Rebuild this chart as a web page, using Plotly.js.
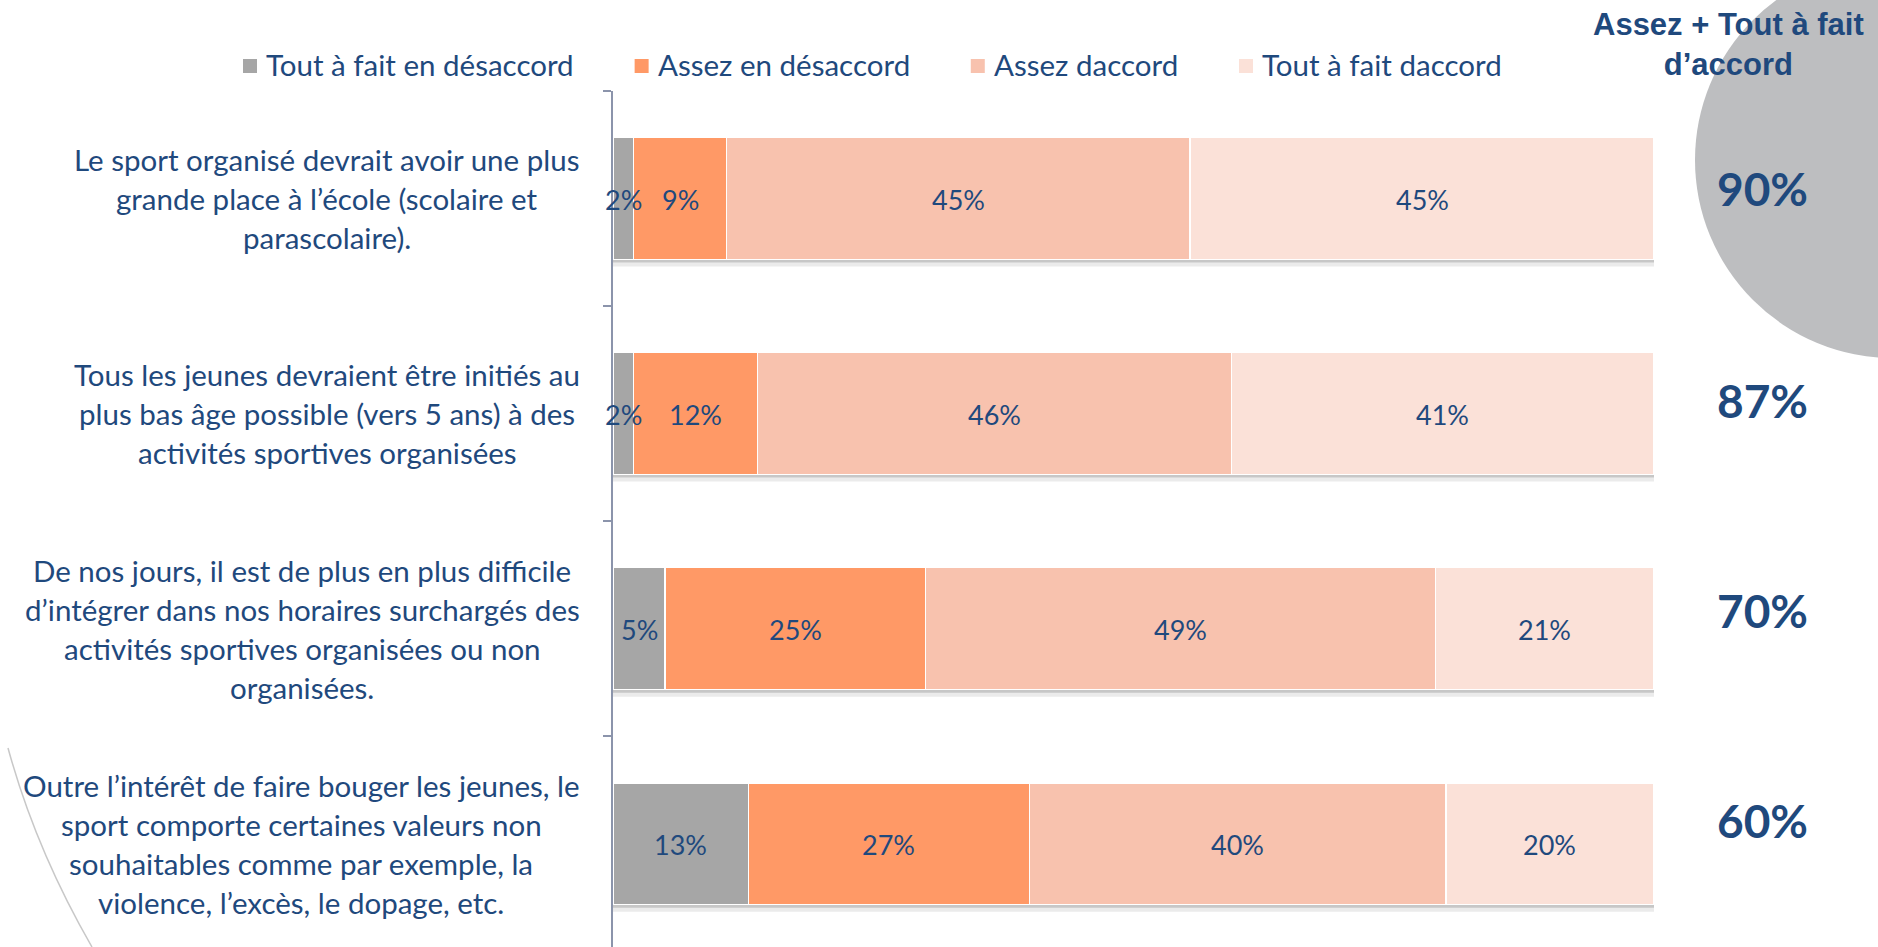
<!DOCTYPE html>
<html>
<head>
<meta charset="utf-8">
<script src="https://cdn.plot.ly/plotly-3.0.1.min.js"></script>
<style>html,body{margin:0;padding:0;background:#fff;}</style>
</head>
<body>
<div id="chart" style="width:1878px;height:947px;"></div>
<script>
// ---------- DATA ----------
const categories = [
  "Le sport organisé devrait avoir une plus<br>grande place à l’école (scolaire et<br>parascolaire).",
  "Tous les jeunes devraient être initiés au<br>plus bas âge possible (vers 5 ans) à des<br>activités sportives organisées",
  "De nos jours, il est de plus en plus difficile<br>d’intégrer dans nos horaires surchargés des<br>activités sportives organisées ou non<br>organisées.",
  "Outre l’intérêt de faire bouger les jeunes, le<br>sport comporte certaines valeurs non<br>souhaitables comme par exemple, la<br>violence, l’excès, le dopage, etc."
];
const seriesNames = ["Tout à fait en désaccord", "Assez en désaccord", "Assez daccord", "Tout à fait daccord"];
const toutDesaccord  = [2, 2, 5, 13];
const assezDesaccord = [9, 12, 25, 27];
const assezAccord    = [45, 46, 49, 40];
const toutAccord     = [45, 41, 21, 20];
const totalTitle = "Assez + Tout à fait<br>d’accord";

// ---------- STYLE ----------
const colors = ["#A6A6A6", "#FF9966", "#F8C2AE", "#FBE1D8"];
const navy = "#1F497D";
const axisColor = "#8B94AB";
const baseFont = "Lato, 'Open Sans', sans-serif";

const W = 1878, H = 947, L = 613, R = 1654, T = 91, B = 947;
const px2x = p => (p - L) / (R - L);
const py2y = p => (B - p) / (B - T);

const canvas = document.createElement("canvas");
const ctx = canvas.getContext("2d");
function textW(s, size, weight) {
  ctx.font = (weight || "normal") + " " + size + "px Lato";
  return ctx.measureText(s).width;
}

const seriesValues = [toutDesaccord, assezDesaccord, assezAccord, toutAccord];
const idx = categories.map((c, i) => i);

// stacked bars (normalised to 100% like a 100% stacked bar chart)
const traces = seriesValues.map((vals, k) => ({
  type: "bar",
  orientation: "h",
  name: seriesNames[k],
  y: idx,
  x: vals,
  width: 0.567,
  marker: { color: colors[k], line: { color: "#FFFFFF", width: 1.5 } },
  hoverinfo: "skip",
  showlegend: false
}));

const annotations = [];
const shapes = [];

// data labels on top of all bars, at segment midpoints of the normalised stack
const totals = idx.map(i => seriesValues.reduce((s, arr) => s + arr[i], 0));
seriesValues.forEach((vals, k) => {
  idx.forEach(i => {
    let before = 0;
    for (let m = 0; m < k; m++) before += seriesValues[m][i];
    annotations.push({
      xref: "x", x: (before + vals[i] / 2) / totals[i] * 100, xanchor: "center",
      yref: "y", y: i, yanchor: "middle", yshift: -1,
      text: vals[i] + "%", showarrow: false,
      font: { family: baseFont, size: 27, color: navy }
    });
  });
});

// category labels (centered lines, right-aligned block)
const labelSize = 29.5, lineGap = 39, labelRight = 580;
categories.forEach((cat, i) => {
  const lines = cat.split("<br>");
  const maxW = Math.max(...lines.map(s => textW(s, labelSize)));
  const center = labelRight - maxW / 2;
  const n = lines.length;
  lines.forEach((ln, j) => {
    annotations.push({
      xref: "paper", x: px2x(center), xanchor: "center",
      yref: "y", y: i, yanchor: "middle",
      yshift: ((n - 1) / 2 - j) * lineGap,
      text: ln, showarrow: false,
      font: { family: baseFont, size: labelSize, color: navy }
    });
  });
});

// totals (Assez + Tout à fait d'accord)
const totalShift = [10, 13, 18, 23];
categories.forEach((cat, i) => {
  annotations.push({
    xref: "paper", x: px2x(1762), xanchor: "center",
    yref: "y", y: i, yanchor: "middle", yshift: totalShift[i],
    text: (assezAccord[i] + toutAccord[i]) + "%", showarrow: false,
    font: { family: baseFont, size: 46, color: navy, weight: "bold" }
  });
});

// header
annotations.push({
  xref: "paper", x: px2x(1728), xanchor: "center",
  yref: "paper", y: py2y(45), yanchor: "middle",
  text: totalTitle, showarrow: false, align: "center",
  font: { family: "'Liberation Sans', Arial, sans-serif", size: 31, color: navy, weight: "bold" }
});

// custom legend
let lx = 243;
const legendSize = 29.5;
seriesNames.forEach((nm, k) => {
  shapes.push({
    type: "rect", xref: "paper", yref: "paper", layer: "above",
    x0: px2x(lx), x1: px2x(lx + 14), y0: py2y(73), y1: py2y(59),
    fillcolor: colors[k], line: { width: 0 }
  });
  annotations.push({
    xref: "paper", x: px2x(lx + 21), xanchor: "left",
    yref: "paper", y: py2y(64), yanchor: "middle",
    text: nm, showarrow: false,
    font: { family: baseFont, size: legendSize, color: navy }
  });
  lx = lx + 24 + textW(nm, legendSize) + 60;
});

// decorative circle (top-right)
const cx = 1893, cy = 160, cr = 198;
shapes.push({
  type: "circle", xref: "paper", yref: "paper", layer: "below",
  x0: px2x(cx - cr), x1: px2x(cx + cr), y0: py2y(cy + cr), y1: py2y(cy - cr),
  fillcolor: "#BDBEC0", line: { width: 0 }
});

// decorative thin arc (bottom-left)
const p = (x, y) => px2x(x) + "," + py2y(y);
shapes.push({
  type: "path", xref: "paper", yref: "paper", layer: "below",
  path: "M" + p(8, 748) + " Q" + p(36, 850) + " " + p(92, 947),
  line: { color: "#C8C8C8", width: 1.5 }
});

// bar shadows
idx.forEach(i => {
  shapes.push({
    type: "rect", xref: "x", x0: 0, x1: 100,
    yref: "y", ysizemode: "pixel", yanchor: i, y0: -61, y1: -64,
    fillcolor: "rgba(0,0,0,0.22)", line: { width: 0 }, layer: "below"
  });
  shapes.push({
    type: "rect", xref: "x", x0: 0, x1: 100.3,
    yref: "y", ysizemode: "pixel", yanchor: i, y0: -64, y1: -68,
    fillcolor: "rgba(0,0,0,0.08)", line: { width: 0 }, layer: "below"
  });
});

const layout = {
  width: W, height: H, autosize: false,
  margin: { l: L, r: W - R, t: T, b: H - B, pad: 0 },
  paper_bgcolor: "#FFFFFF", plot_bgcolor: "rgba(0,0,0,0)",
  barmode: "stack", barnorm: "percent",
  showlegend: false,
  xaxis: { range: [0, 100], visible: false, fixedrange: true },
  yaxis: {
    type: "category", range: [3.48, -0.5], autorange: false,
    showticklabels: false, showgrid: false, zeroline: false,
    showline: true, linecolor: axisColor, linewidth: 2,
    ticks: "outside", tickson: "boundaries", ticklen: 8, tickwidth: 2, tickcolor: axisColor,
    fixedrange: true
  },
  annotations: annotations,
  shapes: shapes,
  font: { family: baseFont, color: navy }
};

Plotly.newPlot("chart", traces, layout, { displayModeBar: false, staticPlot: true });
</script>
</body>
</html>
